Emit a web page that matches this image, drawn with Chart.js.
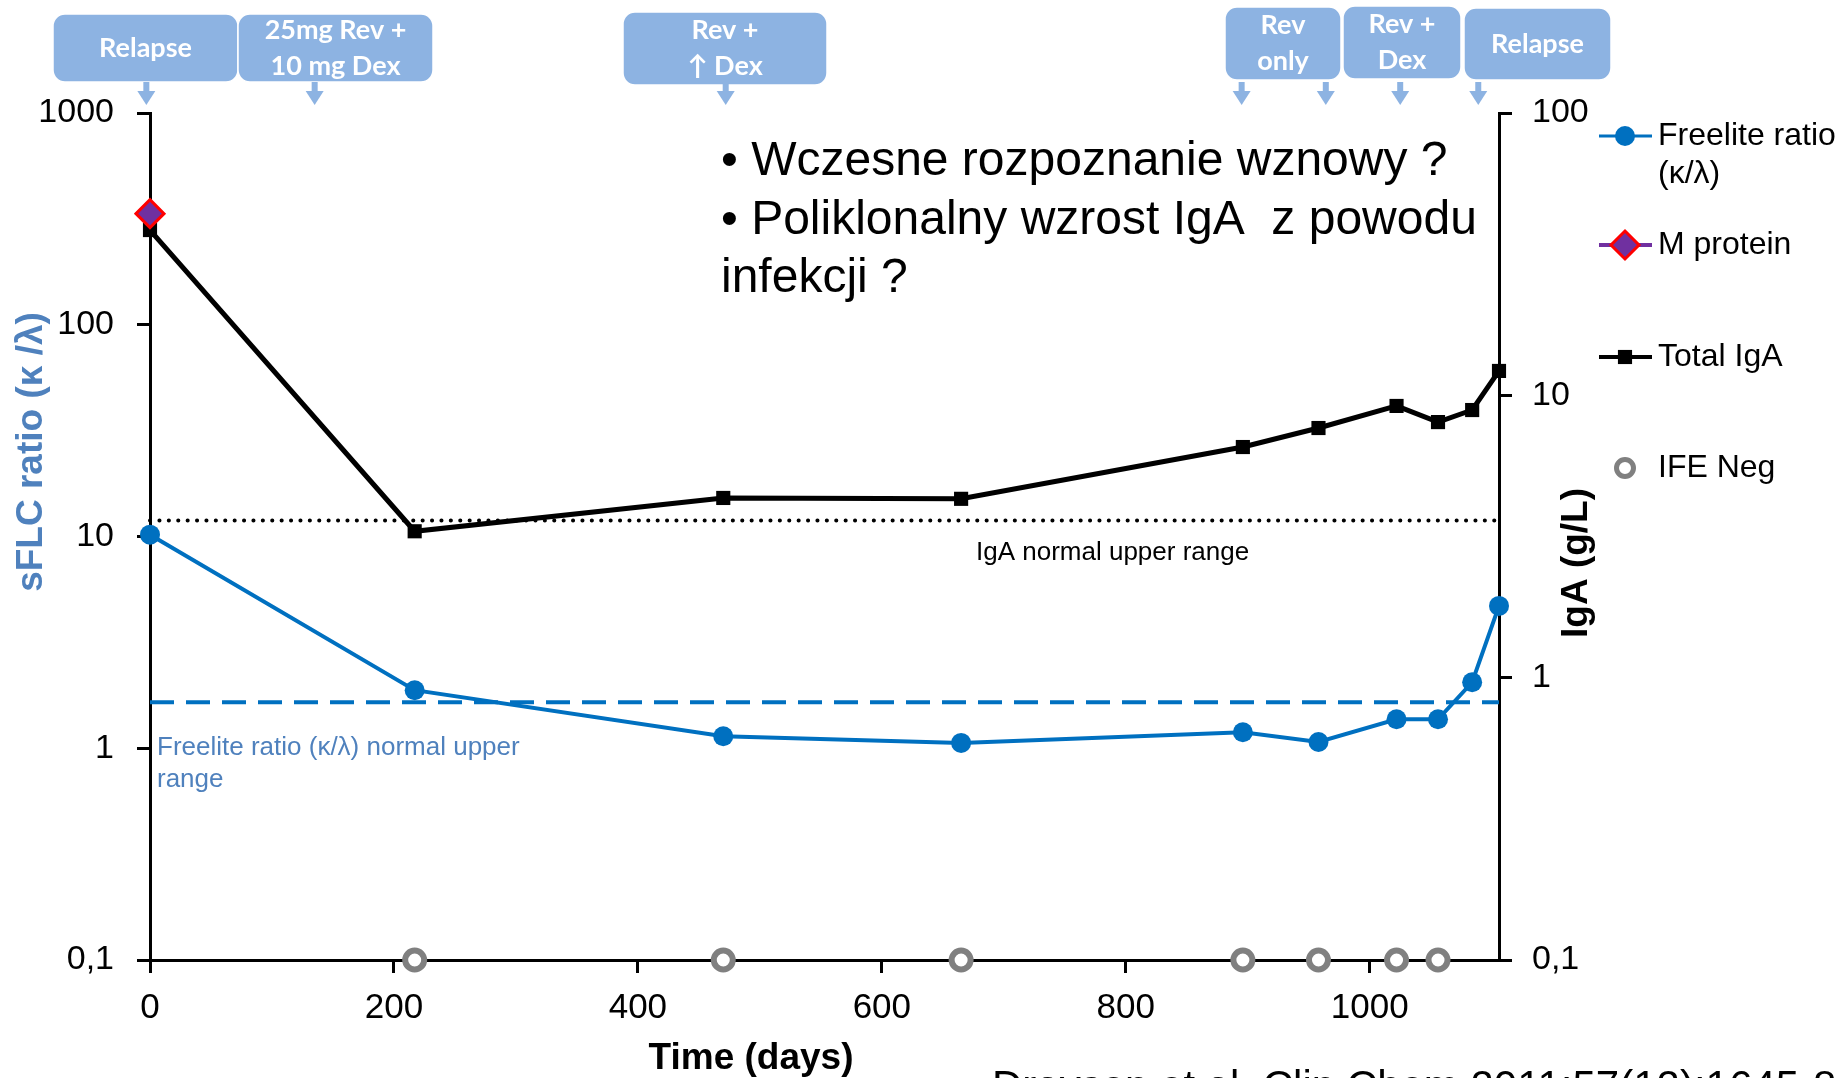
<!DOCTYPE html>
<html>
<head>
<meta charset="utf-8">
<title>sFLC ratio and IgA over time</title>
<script src="https://cdn.jsdelivr.net/npm/chart.js@4.4.1/dist/chart.umd.min.js"></script>
<style>
  html, body { margin: 0; padding: 0; background: #fff; overflow: hidden; }
  canvas { display: block; }
</style>
</head>
<body>
<canvas id="chart" width="1841" height="1078"></canvas>
<script>
const sampleDays = [0, 217, 470, 665, 896, 958, 1022, 1056, 1084, 1106];
const freeliteRatio = [10.2, 1.88, 1.14, 1.06, 1.19, 1.07, 1.37, 1.37, 2.05, 4.7];
const totalIgA = [38.5, 3.3, 4.33, 4.3, 6.56, 7.66, 9.17, 8.04, 8.87, 12.2];
const mProteinDays = [0];
const mProtein = [44];
const ifeNegDays = [217, 470, 665, 896, 958, 1022, 1056];
const flcUpperNormal = 1.65;   // freelite ratio upper normal limit
const igaUpperNormal = 3.6;    // IgA upper normal limit, g/L
const xTicks = [0, 200, 400, 600, 800, 1000];
const leftTicks = [0.1, 1, 10, 100, 1000];
const rightTicks = [0.1, 1, 10, 100];
const X_MAX = 1106;

// treatment call-outs at the top, arrows point at these days
const arrowDays = [-3, 135, 472, 895, 964, 1025, 1089];
const boxes = [
  { x0: 53, x1: 238, y0: 14, y1: 82, lines: ['Relapse'] },
  { x0: 238, x1: 433, y0: 14, y1: 82, lines: ['25mg Rev +', '10 mg Dex'] },
  { x0: 623, x1: 827, y0: 12, y1: 85, lines: ['Rev +', '\u2191 Dex'] },
  { x0: 1225, x1: 1341, y0: 7, y1: 80, lines: ['Rev', 'only'] },
  { x0: 1343, x1: 1461, y0: 6, y1: 79, lines: ['Rev +', 'Dex'] },
  { x0: 1464, x1: 1611, y0: 8, y1: 80, lines: ['Relapse'] }
];

const BLUE = '#0070C0';
const TITLE_BLUE = '#4F81BD';
const BOX_BLUE = '#8DB3E2';
const ARIAL = '"Liberation Sans", Arial, sans-serif';

const toPts = (xs, ys) => xs.map((d, i) => ({ x: d, y: ys[i] }));
const fmt = v => String(v).replace('.', ',');

function drawMarker(ctx, style, x, y, r, fill, stroke, bw) {
  ctx.save();
  ctx.beginPath();
  if (style === 'circle') {
    ctx.arc(x, y, r, 0, Math.PI * 2);
  } else if (style === 'rect') {
    const s = r / Math.SQRT2;
    ctx.rect(x - s, y - s, 2 * s, 2 * s);
  } else if (style === 'rectRot') {
    ctx.moveTo(x, y - r); ctx.lineTo(x + r, y); ctx.lineTo(x, y + r); ctx.lineTo(x - r, y);
    ctx.closePath();
  }
  if (fill) { ctx.fillStyle = fill; ctx.fill(); }
  if (stroke && bw) { ctx.strokeStyle = stroke; ctx.lineWidth = bw; ctx.stroke(); }
  ctx.restore();
}

const decor = {
  id: 'decor',
  afterDraw(chart) {
    const ctx = chart.ctx;
    const xs = chart.scales.x;
    ctx.save();

    // treatment boxes
    ctx.textAlign = 'center';
    ctx.textBaseline = 'middle';
    ctx.font = 'bold 27px Lato, "Open Sans", sans-serif';
    boxes.forEach(b => {
      ctx.beginPath();
      if (ctx.roundRect) ctx.roundRect(b.x0, b.y0, b.x1 - b.x0, b.y1 - b.y0, 12);
      else ctx.rect(b.x0, b.y0, b.x1 - b.x0, b.y1 - b.y0);
      ctx.fillStyle = BOX_BLUE;
      ctx.fill();
      ctx.strokeStyle = '#fff';
      ctx.lineWidth = 1.5;
      ctx.stroke();
      ctx.fillStyle = '#fff';
      const cx = (b.x0 + b.x1) / 2;
      const cy = (b.y0 + b.y1) / 2;
      const lh = 36;
      b.lines.forEach((t, i) => {
        ctx.fillText(t, cx, cy + (i - (b.lines.length - 1) / 2) * lh);
      });
    });

    // arrows
    ctx.fillStyle = BOX_BLUE;
    arrowDays.forEach(d => {
      const px = xs.getPixelForValue(d);
      ctx.fillRect(px - 3, 82, 6, 11);
      ctx.beginPath();
      ctx.moveTo(px - 9, 91);
      ctx.lineTo(px + 9, 91);
      ctx.lineTo(px, 105);
      ctx.closePath();
      ctx.fill();
    });

    // in-plot comments
    ctx.textAlign = 'left';
    ctx.fillStyle = '#000';
    ctx.font = '48px ' + ARIAL;
    ctx.fillText('\u2022 Wczesne rozpoznanie wznowy ?', 721, 162);
    ctx.fillText('\u2022 Poliklonalny wzrost IgA  z powodu', 721, 221);
    ctx.fillText('infekcji ?', 721, 279);

    ctx.font = '26px ' + ARIAL;
    ctx.fillText('IgA normal upper range', 976, 553);
    ctx.fillStyle = TITLE_BLUE;
    ctx.fillText('Freelite ratio (\u03BA/\u03BB) normal upper', 157, 748);
    ctx.fillText('range', 157, 780);

    // axis titles
    ctx.font = 'bold 37px ' + ARIAL;
    ctx.textAlign = 'center';
    ctx.save();
    ctx.translate(32, 452);
    ctx.rotate(-Math.PI / 2);
    ctx.fillStyle = TITLE_BLUE;
    ctx.fillText('sFLC ratio (\u03BA /\u03BB)', 0, 0);
    ctx.restore();
    ctx.save();
    ctx.translate(1577, 563);
    ctx.rotate(-Math.PI / 2);
    ctx.fillStyle = '#000';
    ctx.fillText('IgA (g/L)', 0, 0);
    ctx.restore();
    ctx.fillStyle = '#000';
    ctx.fillText('Time (days)', 751, 1059);

    // citation, cut off by the bottom edge
    ctx.textAlign = 'left';
    ctx.textBaseline = 'alphabetic';
    ctx.font = '42px ' + ARIAL;
    ctx.fillText('Drayson et al. Clin Chem 2011;57(12):1645-8', 992, 1100);

    // legend
    ctx.textBaseline = 'middle';
    ctx.font = '32px ' + ARIAL;
    const lx0 = 1599, lx1 = 1652, mx = 1625, tx = 1658;
    ctx.lineWidth = 3;
    ctx.strokeStyle = BLUE;
    ctx.beginPath(); ctx.moveTo(lx0, 136); ctx.lineTo(lx1, 136); ctx.stroke();
    drawMarker(ctx, 'circle', mx, 136, 10, BLUE);
    ctx.fillStyle = '#000';
    ctx.fillText('Freelite ratio', tx, 136);
    ctx.fillText('(\u03BA/\u03BB)', tx, 174);

    ctx.lineWidth = 4;
    ctx.strokeStyle = '#7030A0';
    ctx.beginPath(); ctx.moveTo(lx0, 245); ctx.lineTo(lx1, 245); ctx.stroke();
    drawMarker(ctx, 'rectRot', mx, 245, 14, '#7030A0', '#FF0000', 3);
    ctx.fillStyle = '#000';
    ctx.fillText('M protein', tx, 245);

    ctx.strokeStyle = '#000';
    ctx.beginPath(); ctx.moveTo(lx0, 357); ctx.lineTo(lx1, 357); ctx.stroke();
    drawMarker(ctx, 'rect', mx, 357, 10, '#000');
    ctx.fillText('Total IgA', tx, 357);

    drawMarker(ctx, 'circle', mx, 468, 8.5, '#fff', '#808080', 5);
    ctx.fillStyle = '#000';
    ctx.fillText('IFE Neg', tx, 468);

    ctx.restore();
  }
};

const axisGrid = { display: true, drawOnChartArea: false, drawTicks: true, tickLength: 13, color: '#000', lineWidth: 3 };
const axisBorder = { display: true, color: '#000', width: 3 };
const tickFont = { family: ARIAL, size: 34 };

new Chart(document.getElementById('chart'), {
  type: 'line',
  data: {
    datasets: [
      {
        label: 'M protein', data: toPts(mProteinDays, mProtein), yAxisID: 'yR',
        showLine: false, pointStyle: 'rectRot', pointRadius: 14, pointBorderWidth: 3,
        backgroundColor: '#7030A0', borderColor: '#FF0000', clip: false, order: 0
      },
      {
        label: 'IFE Neg', data: ifeNegDays.map(d => ({ x: d, y: 0.1 })), yAxisID: 'yL',
        showLine: false, pointStyle: 'circle', pointRadius: 9.5, pointBorderWidth: 6,
        backgroundColor: '#fff', borderColor: '#808080', clip: false, order: 1
      },
      {
        label: 'Freelite ratio (\u03BA/\u03BB)', data: toPts(sampleDays, freeliteRatio), yAxisID: 'yL',
        borderColor: BLUE, backgroundColor: BLUE, borderWidth: 4,
        pointStyle: 'circle', pointRadius: 10, pointBorderWidth: 0, clip: false, order: 2
      },
      {
        label: 'Total IgA', data: toPts(sampleDays, totalIgA), yAxisID: 'yR',
        borderColor: '#000', backgroundColor: '#000', borderWidth: 5,
        pointStyle: 'rect', pointRadius: 10, pointBorderWidth: 0, clip: false, order: 3
      },
      {
        label: 'FLC upper normal', data: [{ x: 0, y: flcUpperNormal }, { x: X_MAX, y: flcUpperNormal }], yAxisID: 'yL',
        borderColor: BLUE, borderWidth: 4, borderDash: [24, 12], pointRadius: 0, clip: false, order: 4
      },
      {
        label: 'IgA upper normal', data: [{ x: 0, y: igaUpperNormal }, { x: X_MAX, y: igaUpperNormal }], yAxisID: 'yR',
        borderColor: '#000', borderWidth: 4, borderDash: [0.1, 9.3], borderCapStyle: 'round',
        pointRadius: 0, clip: false, order: 5
      }
    ]
  },
  options: {
    responsive: false,
    animation: false,
    devicePixelRatio: 1,
    layout: { padding: { top: 113, left: 0, right: 0, bottom: 0 } },
    plugins: { legend: { display: false }, tooltip: { enabled: false } },
    elements: { line: { tension: 0 } },
    scales: {
      x: {
        type: 'linear', position: 'bottom', min: 0, max: X_MAX,
        afterBuildTicks: s => { s.ticks = xTicks.map(v => ({ value: v })); },
        afterFit: s => { s.height = 118; },
        ticks: { color: '#000', font: { family: ARIAL, size: 35 }, padding: 14, maxRotation: 0, callback: v => String(v) },
        grid: axisGrid, border: axisBorder
      },
      yL: {
        type: 'logarithmic', position: 'left', min: 0.1, max: 1000,
        afterBuildTicks: s => { s.ticks = leftTicks.map(v => ({ value: v })); },
        afterFit: s => { s.width = 150; },
        ticks: { color: '#000', font: tickFont, padding: 23, callback: v => fmt(v) },
        grid: axisGrid, border: axisBorder
      },
      yR: {
        type: 'logarithmic', position: 'right', min: 0.1, max: 100,
        afterBuildTicks: s => { s.ticks = rightTicks.map(v => ({ value: v })); },
        afterFit: s => { s.width = 342; },
        ticks: { color: '#000', font: tickFont, padding: 20, callback: v => fmt(v) },
        grid: axisGrid, border: axisBorder
      }
    }
  },
  plugins: [decor]
});
</script>
</body>
</html>
